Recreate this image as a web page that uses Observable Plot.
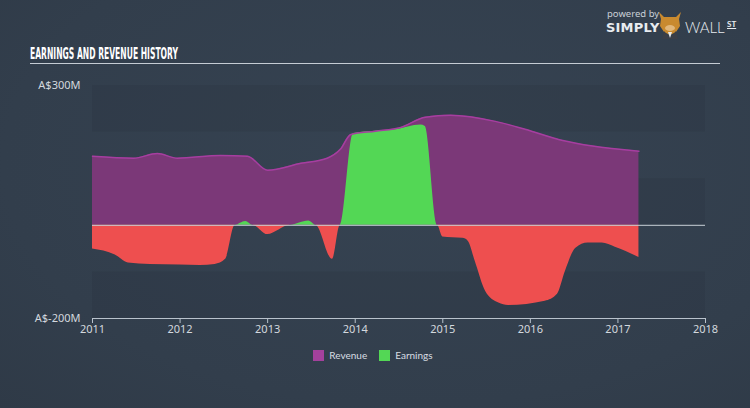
<!DOCTYPE html>
<html>
<head>
<meta charset="utf-8">
<script src="https://cdn.jsdelivr.net/npm/d3@7"></script>
<script src="https://cdn.jsdelivr.net/npm/@observablehq/plot@0.6"></script>
<style>
  html, body { margin: 0; padding: 0; }
  body { width: 750px; height: 408px; overflow: hidden;
         background: radial-gradient(ellipse at 55% 40%, #364352 0%, #323e4c 70%, #2f3a47 100%);
         font-family: "Noto Sans", sans-serif; }
  #wrap { position: relative; width: 750px; height: 408px; }
  #title { position: absolute; left: 30px; top: 44px; overflow: visible; }
  #rule { position: absolute; left: 30px; top: 63px; width: 690px; height: 0; border-top: 1.5px solid #c5ccd4; }
  #chart { position: absolute; left: 0; top: 70px; }
  #legend { position: absolute; top: 349px; left: 0; width: 750px; display: flex; justify-content: center; gap: 12px;
            font-family: "Lato", sans-serif; font-size: 10px; color: #d8dde3; margin-left: -2px; }
  #legend span.item { display: flex; align-items: center; gap: 5px; }
  #legend span.sw { display: inline-block; width: 11px; height: 11px; }
  #logo { position: absolute; left: 606px; top: 7px; color: #e8ecf0; }
  #logo .pb { font-size: 9.5px; color: #c9cfd6; position: absolute; left: 1px; top: 0px; white-space: nowrap; }
  #logo .simply { font-family: "DejaVu Sans", sans-serif; font-weight: bold; font-size: 13px; position: absolute; left: 0; top: 13px; letter-spacing: 0.2px; }
  #logo .wall { font-family: "Lato", sans-serif; font-weight: 300; font-size: 15px; position: absolute; left: 79px; top: 11px; }
  #logo .st { font-family: "Lato", sans-serif; font-weight: bold; font-size: 8px; position: absolute; left: 121px; top: 12px; text-decoration: underline; }
  #logo svg { position: absolute; left: 50px; top: 2px; }
</style>
</head>
<body>
<div id="wrap">
  <div id="logo">
    <span class="pb">powered by</span>
    <span class="simply">SIMPLY</span>
    <svg width="28" height="30" viewBox="0 0 28 30">
      <path d="M3 3 L8 8 L20 8 L25 3 L23 10 L24 17 L20 23 L14 26 L8 23 L4 17 L5 10 Z" fill="#c98a2f"/>
      <path d="M8 22 L14 29 L20 22 L22 30 L6 30 Z" fill="#3b3f48"/>
      <path d="M12 23 L14 29 L16 23 Z" fill="#e9e9e9"/>
      <ellipse cx="14" cy="19" rx="5" ry="3" fill="#e2b77a"/>
    </svg>
    <span class="wall">WALL</span>
    <span class="st">ST</span>
  </div>
  <svg id="title" width="240" height="20">
    <text x="0" y="14.5" textLength="148" lengthAdjust="spacingAndGlyphs" fill="#ffffff"
      font-family="DejaVu Sans Condensed, DejaVu Sans, sans-serif" font-weight="bold" font-size="15.5">EARNINGS AND REVENUE HISTORY</text>
  </svg>
  <div id="rule"></div>
  <div id="chart"></div>
  <div id="legend">
    <span class="item"><span class="sw" style="background:#a3419c"></span>Revenue</span>
    <span class="item"><span class="sw" style="background:#53d755"></span>Earnings</span>
  </div>
</div>
<script>
// Revenue (A$ millions) by fractional year
const revenueYears = [2011.00, 2011.47, 2011.74, 2011.97, 2012.46, 2012.77, 2013.00, 2013.38, 2013.68, 2013.83, 2013.95, 2014.23, 2014.52, 2014.80, 2015.09, 2015.60, 2015.94, 2016.37, 2016.71, 2017.24];
const revenueValues = [148, 144, 154, 144, 150, 148, 118, 133, 144, 163, 195, 202, 210, 232, 236, 223, 206, 182, 170, 159];

// Earnings (A$ millions) by fractional year
const earningsYears = [2011.00, 2011.26, 2011.41, 2011.66, 2012.00, 2012.23, 2012.40, 2012.52, 2012.63, 2012.75, 2012.83, 2013.00, 2013.26, 2013.47, 2013.55, 2013.74, 2013.83, 2013.98, 2014.23, 2014.46, 2014.75, 2014.80, 2014.94, 2015.00, 2015.23, 2015.29, 2015.37, 2015.49, 2015.64, 2015.75, 2016.17, 2016.31, 2016.40, 2016.52, 2016.66, 2016.82, 2016.97, 2017.24];
const earningsValues = [-51, -64, -81, -84, -85, -86, -84, -73, 0, 8, 0, -20, 0, 9, 0, -73, 0, 197, 202, 205, 215, 212, 0, -25, -28, -34, -77, -142, -167, -172, -163, -148, -99, -49, -38, -38, -47, -69];

const xTicks = [2011, 2012, 2013, 2014, 2015, 2016, 2017, 2018];
const yTicks = [300, -200];
const bandEdges = [300, 200, 100, 0, -100, -200];

const revenue = revenueYears.map((t, i) => ({t, v: revenueValues[i]}));
const earnings = earningsYears.map((t, i) => ({t, v: earningsValues[i]}));
const bands = d3.range(bandEdges.length - 1).filter(i => i % 2 === 0).map(i => ({y1: bandEdges[i], y2: bandEdges[i + 1]}));

const chart = Plot.plot({
  width: 750,
  height: 270,
  marginLeft: 92,
  marginRight: 45,
  marginTop: 15,
  marginBottom: 22,
  style: {background: "transparent", color: "#d3d8de", fontSize: "11px", fontFamily: "Noto Sans, sans-serif"},
  x: {domain: [xTicks[0], xTicks[xTicks.length - 1]], label: null},
  y: {domain: [yTicks[1], yTicks[0]], label: null},
  marks: [
    Plot.rect(bands, {x1: () => xTicks[0], x2: () => xTicks[xTicks.length - 1], y1: "y1", y2: "y2",
      fill: "#000000", fillOpacity: 0.05}),
    Plot.areaY(revenue, {x: "t", y: "v", fill: "#7b3878", curve: "monotone-x"}),
    Plot.areaY(earnings, {x: "t", y: d => Math.max(0, d.v), fill: "#53d755", curve: "monotone-x"}),
    Plot.areaY(earnings, {x: "t", y: d => Math.min(0, d.v), fill: "#ee4f4f", curve: "monotone-x"}),
    Plot.lineY(revenue, {x: "t", y: "v", stroke: "#a63ea0", strokeWidth: 1.5, curve: "monotone-x"}),
    Plot.ruleY([0], {stroke: "#c9d0d8", strokeWidth: 1}),
    Plot.axisX({ticks: xTicks, tickFormat: d => String(d), tickSize: 5, tickPadding: 2, stroke: "#b9c2cc", color: "#d3d8de", label: null}),
    Plot.ruleY([yTicks[1]], {stroke: "#b9c2cc"}),
    Plot.axisY({ticks: yTicks, tickFormat: d => `A$${d}M`, tickSize: 0, tickPadding: 12, color: "#d3d8de", label: null})
  ]
});
document.getElementById("chart").appendChild(chart);
</script>
</body>
</html>
